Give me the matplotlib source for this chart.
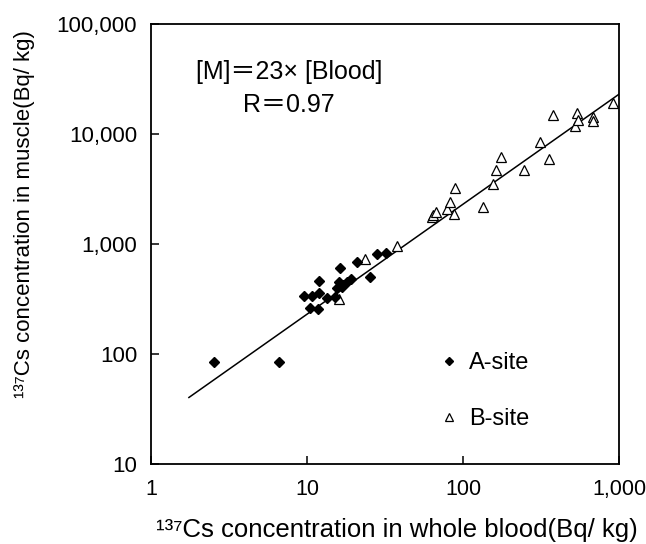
import matplotlib
matplotlib.use('Agg')
from matplotlib import pyplot as plt
from matplotlib.lines import Line2D
from matplotlib.ticker import FixedLocator, FixedFormatter

plt.rcParams['font.family'] = ['Liberation Sans', 'Noto Sans CJK JP', 'DejaVu Sans']

# A-site: whole blood vs muscle (Bq/kg)
a_blood = [2.53, 6.6, 9.5, 10.7, 12.0, 12.0, 10.5, 11.8, 13.4, 15.1, 15.5, 16.1,
           16.3, 17.1, 18.0, 19.1, 16.7, 20.8, 25.3, 28.0, 32.1]
a_muscle = [84, 84, 336, 336, 356, 464, 260, 255, 320, 332, 395, 454,
            601, 424, 454, 477, 409, 682, 498, 811, 834]

# B-site
b_blood = [16.1, 23.6, 37.6, 63.0, 64.6, 67.1, 78.6, 82.6, 87.5, 88.9, 135, 156,
           162, 175, 246, 312, 357, 376, 522, 540, 548, 678, 684, 912]
b_muscle = [314, 726, 960, 1750, 1836, 1968, 2094, 2426, 1862, 3206, 2183, 3510,
            4710, 6220, 4710, 8510, 5890, 14900, 11800, 15400, 13400, 14400, 13200, 19300]

# regression [M] = 23 x [Blood]
slope = 23
fit_blood = [1.75, 1000]

x_ticks = [1, 10, 100, 1000]
x_ticklabels = ['1', '10', '100', '1,000']
y_ticks = [10, 100, 1000, 10000, 100000]
y_ticklabels = ['10', '100', '1,000', '10,000', '100,000']

fig = plt.figure(figsize=(6.46, 5.44), dpi=100)
ax = fig.add_axes([151 / 646, 80 / 544, 468 / 646, 440 / 544])
ax.set_xscale('log')
ax.set_yscale('log')

ax.plot(fit_blood, [slope * v for v in fit_blood], color='k', linewidth=1.1, zorder=1)
ax.plot(b_blood, b_muscle, linestyle='none', marker='^', ms=7.5, mfc='white',
        mec='k', mew=0.9, zorder=2)
ax.plot(a_blood, a_muscle, linestyle='none', marker='D', ms=5, mfc='k', mec='k', zorder=3)

ax.set_xlim(1, 1000)
ax.set_ylim(10, 100000)
ax.xaxis.set_major_locator(FixedLocator(x_ticks))
ax.xaxis.set_major_formatter(FixedFormatter(x_ticklabels))
ax.yaxis.set_major_locator(FixedLocator(y_ticks))
ax.yaxis.set_major_formatter(FixedFormatter(y_ticklabels))
ax.xaxis.set_minor_locator(FixedLocator([]))
ax.yaxis.set_minor_locator(FixedLocator([]))

for s in ax.spines.values():
    s.set_linewidth(1.3)
ax.tick_params(axis='both', direction='in', length=5.5, width=1.1, color='k')
ax.tick_params(axis='x', pad=11, labelsize=15.5)
ax.tick_params(axis='y', pad=10, labelsize=16)

ax.text(0.295, 0.853, '[M]＝23× [Blood]\nR＝0.97', transform=ax.transAxes,
        ha='center', va='center', fontsize=18, linespacing=1.45)

handles = [Line2D([], [], linestyle='none', marker='D', ms=4.5, mfc='k', mec='k'),
           Line2D([], [], linestyle='none', marker='^', ms=5.5, mfc='white', mec='k', mew=0.9)]
ax.legend(handles, ['A-site', 'B-site'], loc='upper left', bbox_to_anchor=(0.6115, 0.254),
          frameon=False, fontsize=17, handlelength=1.0, handletextpad=0.35,
          labelspacing=1.43, borderpad=0, borderaxespad=0)

fig.text(397 / 646, 1 - 530 / 544, '¹³⁷Cs concentration in whole blood(Bq/ kg)',
         ha='center', va='center', fontsize=18.5)
fig.text(25 / 646, 1 - 214 / 544, '¹³⁷Cs concentration in muscle(Bq/ kg)',
         ha='center', va='center', rotation=90, fontsize=16)

fig.savefig('out.png', dpi=100)
plt.close()
